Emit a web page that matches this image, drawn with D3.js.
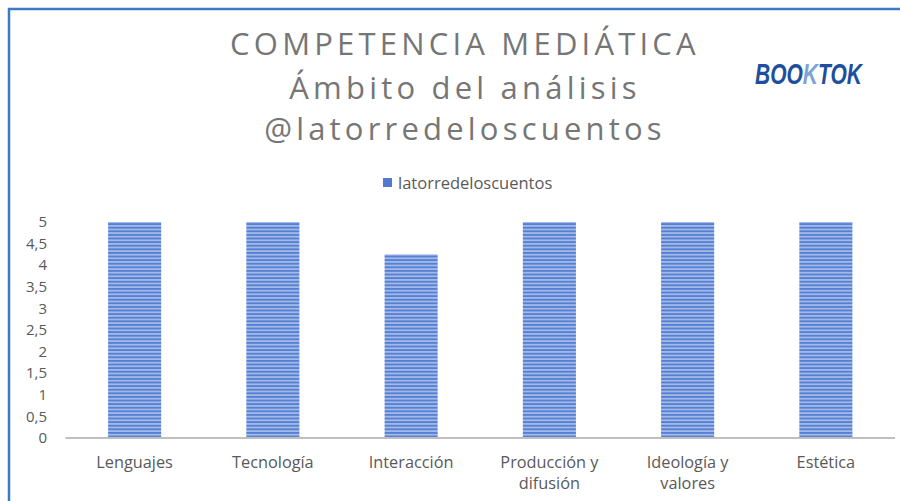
<!DOCTYPE html>
<html>
<head>
<meta charset="utf-8">
<script src="https://cdn.jsdelivr.net/npm/d3@7"></script>
<style>
  body { margin: 0; background: #fff; }
  text { font-family: "Open Sans", "Liberation Sans", sans-serif; fill: #595959; }
</style>
</head>
<body>
<svg id="chart" width="900" height="501"></svg>
<script>
const categories = [['Lenguajes'], ['Tecnología'], ['Interacción'], ['Producción y', 'difusión'], ['Ideología y', 'valores'], ['Estética']];
const values = [5, 5, 4.25, 5, 5, 5];
const yTicks = [0, 0.5, 1, 1.5, 2, 2.5, 3, 3.5, 4, 4.5, 5];
const titleLines = ['COMPETENCIA MEDIÁTICA', 'Ámbito del análisis', '@latorredeloscuentos'];
const seriesName = 'latorredeloscuentos';

const svg = d3.select('#chart');
const margin = { left: 65.5, right: 5, top: 222, bottom: 63 };
const width = 900, height = 501;

// frame lines (top and left only visible)
svg.append('line').attr('x1', 8).attr('x2', width).attr('y1', 9).attr('y2', 9)
    .attr('stroke', '#3b7bc6').attr('stroke-width', 2.5);
svg.append('line').attr('x1', 9).attr('x2', 9).attr('y1', 8).attr('y2', height)
    .attr('stroke', '#3b7bc6').attr('stroke-width', 2.5);

// striped fill
const defs = svg.append('defs');
const pat = defs.append('pattern').attr('id', 'stripes')
    .attr('patternUnits', 'userSpaceOnUse').attr('width', 10).attr('height', 3.6);
pat.append('rect').attr('width', 10).attr('height', 3.6).attr('fill', '#a2b8e6');
pat.append('rect').attr('width', 10).attr('height', 1.8).attr('fill', '#5580d4');

const x = d3.scaleBand()
    .domain(d3.range(categories.length))
    .range([margin.left, width - margin.right])
    .paddingInner(0.616)
    .paddingOuter(0.308);

const y = d3.scaleLinear().domain([0, 5]).range([height - margin.bottom, margin.top]);

// title
const titleY = [54.5, 99, 140];
svg.append('text')
    .attr('text-anchor', 'middle')
    .style('font-size', '31px').style('letter-spacing', '4.2px').style('fill', '#767676')
    .selectAll('tspan').data(titleLines).join('tspan')
    .attr('x', 465).attr('y', (d, i) => titleY[i])
    .text(d => d);

// logo
const logo = svg.append('text')
    .attr('transform', 'translate(755,84) scale(0.7,1)')
    .style('font-family', '"Liberation Sans", Arial, sans-serif')
    .style('font-weight', 'bold').style('font-style', 'italic').style('font-size', '30px');
logo.append('tspan').text('BOO').style('fill', '#1d4f9e');
logo.append('tspan').text('K').style('fill', '#7fa3d6');
logo.append('tspan').text('TOK').style('fill', '#1d4f9e');

// legend
svg.append('rect').attr('x', 383).attr('y', 178).attr('width', 9).attr('height', 9)
    .attr('fill', '#4f7ad0');
svg.append('text').attr('x', 398).attr('y', 188.5)
    .style('font-size', '16.5px').text(seriesName);

// y axis labels
svg.append('g').selectAll('text').data(yTicks).join('text')
    .attr('x', 47).attr('y', d => y(d)).attr('dy', '0.35em')
    .attr('text-anchor', 'end')
    .style('font-size', '15px')
    .text(d => String(d).replace('.', ','));

// bars
svg.append('g').selectAll('rect').data(values).join('rect')
    .attr('x', (d, i) => x(i))
    .attr('y', d => y(d))
    .attr('width', x.bandwidth())
    .attr('height', d => y(0) - y(d))
    .attr('fill', 'url(#stripes)');

// baseline
svg.append('line')
    .attr('x1', margin.left).attr('x2', width - margin.right)
    .attr('y1', y(0)).attr('y2', y(0))
    .attr('stroke', '#bfbfbf').attr('stroke-width', 2);

// category labels
svg.append('g').selectAll('text').data(categories).join('text')
    .attr('text-anchor', 'middle')
    .style('font-size', '16.3px')
    .each(function(d, i) {
        const cx = x(i) + x.bandwidth() / 2;
        d3.select(this).selectAll('tspan').data(d).join('tspan')
            .attr('x', cx)
            .attr('y', (t, j) => 468 + j * 21)
            .text(t => t);
    });
</script>
</body>
</html>
